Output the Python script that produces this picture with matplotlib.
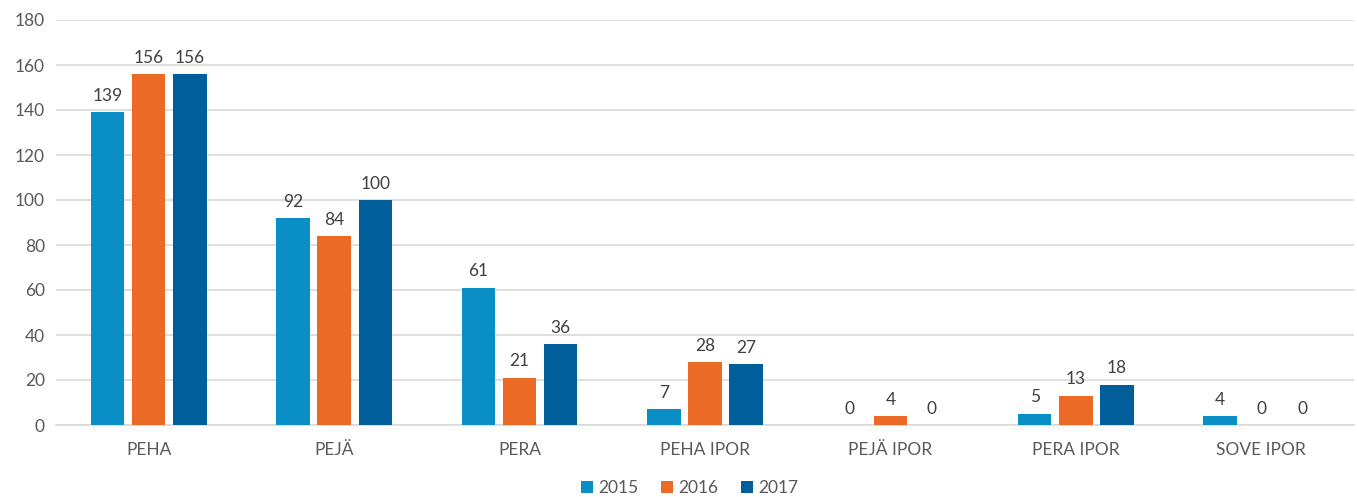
import numpy as np
import matplotlib.pyplot as plt

# data
categories = ["PEHA", "PEJÄ", "PERA", "PEHA IPOR", "PEJÄ IPOR", "PERA IPOR", "SOVE IPOR"]
years = ["2015", "2016", "2017"]
v2015 = [139, 92, 61, 7, 0, 5, 4]
v2016 = [156, 84, 21, 28, 4, 13, 0]
v2017 = [156, 100, 36, 27, 0, 18, 0]
colors = ["#0A8EC6", "#EB6A26", "#005F9B"]

plt.rcParams['font.family'] = ['Lato', 'DejaVu Sans']

fig = plt.figure(figsize=(13.57, 4.97), dpi=100)
ax = fig.add_axes([56 / 1357, 72 / 497, 1298 / 1357, 405 / 497])

x = np.arange(len(categories))
width = 0.18
step = 0.222
series = [v2015, v2016, v2017]
for i, (vals, yr, c) in enumerate(zip(series, years, colors)):
    bars = ax.bar(x + (i - 1) * step, vals, width, color=c, label=yr, zorder=3)
    for b, v in zip(bars, vals):
        ax.annotate(str(v), (b.get_x() + b.get_width() / 2, v),
                    xytext=(0, 6), textcoords="offset points",
                    ha="center", va="bottom", fontsize=12.5, color="#404040")

ax.set_xlim(-0.5, len(categories) - 0.5)
ax.set_ylim(0, 180)
ax.set_yticks(range(0, 181, 20))
ax.set_xticks(x)
ax.set_xticklabels(categories)
ax.tick_params(axis="both", length=0, labelsize=12.5, colors="#595959")
ax.tick_params(axis="x", pad=12)
ax.tick_params(axis="y", pad=8)
ax.grid(axis="y", color="#D9D9D9", linewidth=1.2, zorder=0)
for s in ["top", "right", "left"]:
    ax.spines[s].set_visible(False)
ax.spines["bottom"].set_color("#D9D9D9")
ax.spines["bottom"].set_linewidth(1.2)

ax.legend(loc="center", bbox_to_anchor=(0.488, -0.155), ncol=3, frameon=False,
          fontsize=12.5, handlelength=0.7, handleheight=0.7, handletextpad=0.3,
          columnspacing=1.3, labelcolor="#595959")

fig.savefig("out.png", dpi=100)
